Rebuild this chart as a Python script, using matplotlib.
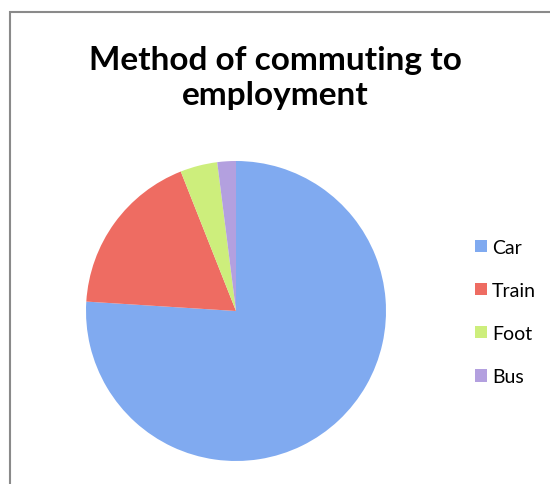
import matplotlib.pyplot as plt
from matplotlib.patches import Rectangle, Patch

labels = ['Car', 'Train', 'Foot', 'Bus']
values = [76, 18, 4, 2]
colors = ['#80aaf0', '#ee6c62', '#cdee7c', '#b3a0df']
title_lines = ['Method of commuting to', 'employment']

dpi = 100
fig = plt.figure(dpi=dpi, figsize=(550 / dpi, 485 / dpi))
fig.patch.set_facecolor('white')

# grey frame (top and left visible)
fig.patches.append(Rectangle((9.5 / 550, -0.1), 1.2, (485 - 12.5) / 485 + 0.1,
                             transform=fig.transFigure, fill=False,
                             edgecolor='#8a8a8a', linewidth=1.5))

for i, line in enumerate(title_lines):
    fig.text(0.5, 1 - (70 + 35 * i) / 485, line, ha='center', va='baseline',
             fontsize=24, fontweight='bold', family='Lato')

ax = fig.add_axes([86 / 550, 23 / 485, 300 / 550, 300 / 485])
wedges, _ = ax.pie(values, colors=colors, startangle=90, counterclock=False,
                   wedgeprops={'linewidth': 0})
ax.set_xlim(-1, 1)
ax.set_ylim(-1, 1)
ax.set_aspect('equal')

handles = [Patch(facecolor=c, edgecolor='none') for c in colors]
fig.legend(handles, labels, loc='center left', bbox_to_anchor=(475 / 550, 1 - 313 / 485),
           frameon=False, handlelength=0.62, handleheight=0.62,
           handletextpad=0.26, labelspacing=1.34, borderpad=0, borderaxespad=0,
           prop={'family': 'Lato', 'size': 14})

fig.savefig('out.png', dpi=dpi)
